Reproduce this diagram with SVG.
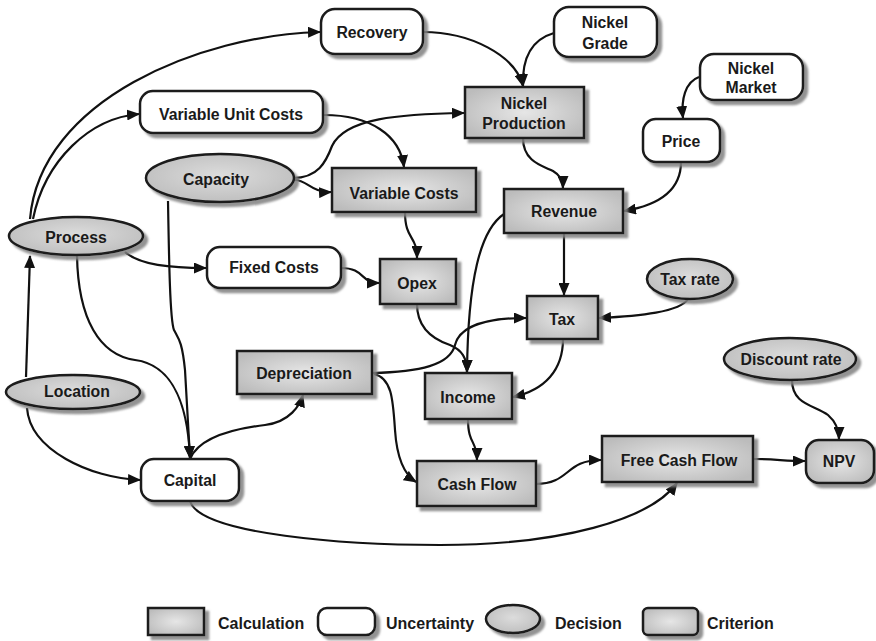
<svg xmlns="http://www.w3.org/2000/svg" width="876" height="641" viewBox="0 0 876 641">
  <style>
    text { font-family: "Liberation Sans", Arial, sans-serif; font-weight: bold; font-size: 15.8px; fill: #1a1a1a; text-anchor: middle; }
    .legend text { text-anchor: start; font-size: 16px; }
    .calc { fill: url(#gCalc); stroke: #1a1a1a; stroke-width: 2.5; filter: url(#shadow); }
    .unc { fill: #ffffff; stroke: #1a1a1a; stroke-width: 2.5; filter: url(#shadow); }
    .dec { fill: url(#gDec); stroke: #1a1a1a; stroke-width: 2.5; filter: url(#shadow); }
    .crit { fill: url(#gCalc); stroke: #1a1a1a; stroke-width: 2.5; filter: url(#shadow); }
    .edges path { fill: none; stroke: #111111; stroke-width: 2.2; marker-end: url(#ah); }
  </style>
  <defs>
    <radialGradient id="gCalc" cx="0.5" cy="0.5" r="0.6">
      <stop offset="0" stop-color="#e6e6e6"/>
      <stop offset="1" stop-color="#bcbcbc"/>
    </radialGradient>
    <radialGradient id="gDec" cx="0.5" cy="0.45" r="0.6">
      <stop offset="0" stop-color="#dcdcdc"/>
      <stop offset="1" stop-color="#bdbdbd"/>
    </radialGradient>
    <filter id="shadow" x="-10%" y="-10%" width="130%" height="140%">
      <feDropShadow dx="4" dy="4" stdDeviation="1" flood-color="#808080" flood-opacity="0.85"/>
    </filter>
    <marker id="ah" viewBox="0 0 13 11" refX="12" refY="5.5" markerWidth="13" markerHeight="11" orient="auto" markerUnits="userSpaceOnUse">
      <path d="M0,0 L13,5.5 L0,11 z" fill="#111111"/>
    </marker>
  </defs>

  <rect width="876" height="641" fill="#ffffff"/>

  <!-- connectors -->
  <g id="connectors" class="edges">
    <path d="M30,219 C 40,100 200,35 320,32"/>
    <path d="M33,219 C 45,160 90,118 139,114"/>
    <path d="M293,178 C 318,178 326,162 332,146 C 345,118 400,114 464,113"/>
    <path d="M295,180 C 307,180 312,193 331,192"/>
    <path d="M324,115 C 370,115 400,135 404,167"/>
    <path d="M554,33 C 530,40 522,60 523,86"/>
    <path d="M423,32 C 470,32 515,55 523,86"/>
    <path d="M699,77 C 685,82 681,100 683,118"/>
    <path d="M681,162 C 681,190 660,205 624,211"/>
    <path d="M523,138 C 523,162 543,166 553,171 C 560,175 563,180 563,188"/>
    <path d="M564,233 L564,295"/>
    <path d="M504,214 C 480,230 468,280 467,372"/>
    <path d="M688,299 C 680,312 640,316 599,318"/>
    <path d="M563,339 C 563,370 545,390 513,397"/>
    <path d="M405,212 C 405,240 417,235 417,258"/>
    <path d="M341,268 C 365,268 360,283 379,283"/>
    <path d="M417,304 C 417,330 435,340 450,345 C 462,350 467,358 467,372"/>
    <path d="M372,373 C 420,372 450,365 455,345 C 460,325 490,318 526,318"/>
    <path d="M374,374 C 392,378 393,400 395,430 C 397,460 405,475 416,482"/>
    <path d="M468,419 C 468,445 477,440 477,460"/>
    <path d="M536,484 C 570,484 565,460 601,460"/>
    <path d="M190,501 C 200,535 350,545 440,545 C 560,545 650,520 677,483"/>
    <path d="M753,459 C 775,459 785,461 805,461"/>
    <path d="M792,380 C 792,405 815,405 828,415 C 836,422 839,430 839,439"/>
    <path d="M26,377 L30,256"/>
    <path d="M27,408 C 30,450 90,478 140,480"/>
    <path d="M125,252 C 140,265 170,268 206,268"/>
    <path d="M77,255 C 78,320 100,355 135,360 C 175,365 188,410 190,458"/>
    <path d="M168,201 C 169,260 170,320 174,330 C 178,338 182,340 185,370 L190,458"/>
    <path d="M190,459 C 200,435 240,428 265,425 C 290,422 300,405 303,395"/>
  </g>

  <!-- uncertainty nodes -->
  <g id="recovery"><rect class="unc" x="321" y="9" width="102" height="45" rx="14"/><text x="372" y="38">Recovery</text></g>
  <g id="nickel-grade"><rect class="unc" x="554" y="7" width="103" height="50" rx="15"/><text x="605" y="28">Nickel</text><text x="605" y="49">Grade</text></g>
  <g id="nickel-market"><rect class="unc" x="700" y="54" width="103" height="46" rx="14"/><text x="751" y="74">Nickel</text><text x="751" y="93">Market</text></g>
  <g id="price"><rect class="unc" x="643" y="119" width="77" height="43" rx="13"/><text x="681" y="147">Price</text></g>
  <g id="variable-unit-costs"><rect class="unc" x="140" y="91" width="183" height="42" rx="13"/><text x="231" y="120">Variable Unit Costs</text></g>
  <g id="fixed-costs"><rect class="unc" x="207" y="247" width="134" height="41" rx="13"/><text x="274" y="273">Fixed Costs</text></g>
  <g id="capital"><rect class="unc" x="141" y="459" width="98" height="42" rx="13"/><text x="190" y="486">Capital</text></g>

  <!-- decision nodes -->
  <g id="capacity"><ellipse class="dec" cx="220" cy="178" rx="74" ry="24"/><text x="216" y="185">Capacity</text></g>
  <g id="process"><ellipse class="dec" cx="76" cy="236" rx="67" ry="19"/><text x="76" y="243">Process</text></g>
  <g id="location"><ellipse class="dec" cx="73" cy="392" rx="67" ry="17"/><text x="77" y="397">Location</text></g>
  <g id="tax-rate"><ellipse class="dec" cx="690" cy="279" rx="43" ry="20"/><text x="690" y="285">Tax rate</text></g>
  <g id="discount-rate"><ellipse class="dec" cx="790" cy="359" rx="66" ry="21"/><text x="791" y="365">Discount rate</text></g>

  <!-- calculation nodes -->
  <g id="nickel-production"><rect class="calc" x="465" y="87" width="119" height="51"/><text x="524" y="109">Nickel</text><text x="524" y="129">Production</text></g>
  <g id="variable-costs"><rect class="calc" x="332" y="168" width="144" height="44"/><text x="404" y="199">Variable Costs</text></g>
  <g id="revenue"><rect class="calc" x="504" y="189" width="119" height="44"/><text x="564" y="217">Revenue</text></g>
  <g id="opex"><rect class="calc" x="380" y="259" width="76" height="45"/><text x="417" y="289">Opex</text></g>
  <g id="tax"><rect class="calc" x="527" y="296" width="71" height="43"/><text x="562" y="325">Tax</text></g>
  <g id="depreciation"><rect class="calc" x="237" y="351" width="135" height="43"/><text x="304" y="379">Depreciation</text></g>
  <g id="income"><rect class="calc" x="425" y="373" width="87" height="46"/><text x="468" y="403">Income</text></g>
  <g id="cash-flow"><rect class="calc" x="417" y="461" width="119" height="45"/><text x="477" y="490">Cash Flow</text></g>
  <g id="free-cash-flow"><rect class="calc" x="602" y="436" width="151" height="46"/><text x="679" y="466">Free Cash Flow</text></g>

  <!-- criterion node -->
  <g id="npv"><rect class="crit" x="806" y="440" width="68" height="43" rx="13"/><text x="839" y="467">NPV</text></g>

  <!-- legend -->
  <g id="legend" class="legend">
    <rect class="calc" x="148" y="608" width="56" height="27"/>
    <text x="218" y="629">Calculation</text>
    <rect class="unc" x="318" y="608" width="57" height="27" rx="9"/>
    <text x="386" y="629">Uncertainty</text>
    <ellipse class="dec" cx="513" cy="619" rx="27" ry="14"/>
    <text x="555" y="629">Decision</text>
    <rect class="crit" x="643" y="608" width="55" height="27" rx="5"/>
    <text x="707" y="629">Criterion</text>
  </g>
</svg>
